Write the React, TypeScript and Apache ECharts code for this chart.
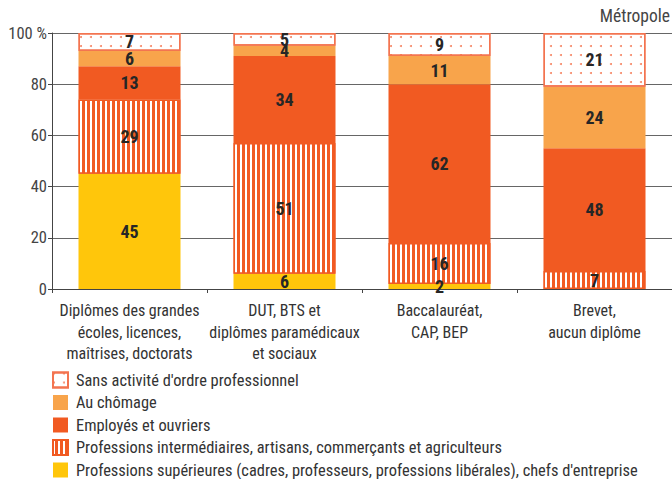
import React, { useEffect, useRef } from "react";
import * as echarts from "echarts";

const categories = [
  "Diplômes des grandes\nécoles, licences,\nmaîtrises, doctorats",
  "DUT, BTS et\ndiplômes paramédicaux\net sociaux",
  "Baccalauréat,\nCAP, BEP",
  "Brevet,\naucun diplôme",
];
const seriesNames = [
  "Professions supérieures (cadres, professeurs, professions libérales), chefs d'entreprise",
  "Professions intermédiaires, artisans, commerçants et agriculteurs",
  "Employés et ouvriers",
  "Au chômage",
  "Sans activité d'ordre professionnel",
];
const superieures = [45, 6, 2, 0];
const intermediaires = [29, 51, 16, 7];
const employes = [13, 34, 62, 48];
const chomage = [6, 4, 11, 24];
const sansActivite = [7, 5, 9, 21];
const yTicks = [0, 20, 40, 60, 80, 100];

const FONT = "'Liberation Sans Narrow', 'Roboto Condensed', 'DejaVu Sans Condensed', Roboto, sans-serif";

export default function App() {
  const ref = useRef<HTMLDivElement>(null);
  useEffect(() => {
    if (!ref.current) return;
    const chart = echarts.init(ref.current, null, { renderer: "svg" });
    const label = {
      show: true,
      position: "inside",
      color: "#262626",
      fontWeight: "bold",
      fontSize: 18,
      fontFamily: FONT,
      formatter: (p: any) => (p.value > 0 ? String(p.value) : ""),
    };
    const values = [superieures, intermediaires, employes, chomage, sansActivite];
    const styles: any[] = [
      { color: "#FFC60B" },
      {
        color: "#F15A22",
        borderColor: "#F15A22",
        borderWidth: 1.5,
        decal: {
          symbol: "rect",
          symbolSize: 1,
          color: "#ffffff",
          dashArrayX: [2, 3],
          dashArrayY: [10, 0],
          rotation: 0,
        },
      },
      { color: "#F15A22" },
      { color: "#F8A44B" },
      {
        color: "#ffffff",
        borderColor: "#F37450",
        borderWidth: 1.5,
        decal: {
          symbol: "circle",
          symbolSize: 1,
          color: "rgba(241,95,50,0.75)",
          dashArrayX: [2, 8],
          dashArrayY: [2, 7],
          rotation: 0,
        },
      },
    ];
    const series = seriesNames.map((name, i) => ({
      name,
      type: "bar",
      stack: "total",
      barWidth: 102,
      data: values[i],
      itemStyle: styles[i],
      label,
      emphasis: { disabled: true },
    }));
    chart.setOption({
      animation: false,
      textStyle: { fontFamily: FONT },
      grid: { left: 52, right: 0, top: 33, height: 256 },
      legend: {
        orient: "vertical",
        left: 52,
        top: 371,
        padding: 0,
        itemWidth: 15,
        itemHeight: 15,
        itemGap: 4.5,
        icon: "rect",
        data: [...seriesNames].reverse(),
        textStyle: { fontSize: 16.4, lineHeight: 18, color: "#333", fontFamily: FONT, padding: [0, 0, 0, 3] },
        selectedMode: false,
      },
      graphic: [
        {
          type: "text",
          right: 2,
          top: 7,
          style: { text: "Métropole", fontSize: 17.5, fill: "#444", fontFamily: FONT },
        },
      ],
      xAxis: {
        type: "category",
        data: categories,
        axisLine: { lineStyle: { color: "#444", width: 1 } },
        axisTick: { show: true, length: 4, lineStyle: { color: "#444" } },
        axisLabel: {
          interval: 0,
          fontSize: 16,
          color: "#333",
          lineHeight: 21.5,
          margin: 11,
          fontFamily: FONT,
        },
      },
      yAxis: {
        type: "value",
        min: 0,
        max: 100,
        interval: 20,
        axisLine: { show: true, lineStyle: { color: "#444" } },
        axisTick: { show: true, length: 4, lineStyle: { color: "#444" } },
        splitLine: { lineStyle: { color: "#666", width: 1 } },
        axisLabel: {
          fontSize: 16.5,
          color: "#444",
          margin: 5,
          fontFamily: FONT,
          formatter: (v: number) => (v === yTicks[yTicks.length - 1] ? v + " %" : String(v)),
        },
      },
      series,
    });
    return () => chart.dispose();
  }, []);
  return <div ref={ref} style={{ width: 672, height: 479, position: "absolute", left: 0, top: 0 }} />;
}
